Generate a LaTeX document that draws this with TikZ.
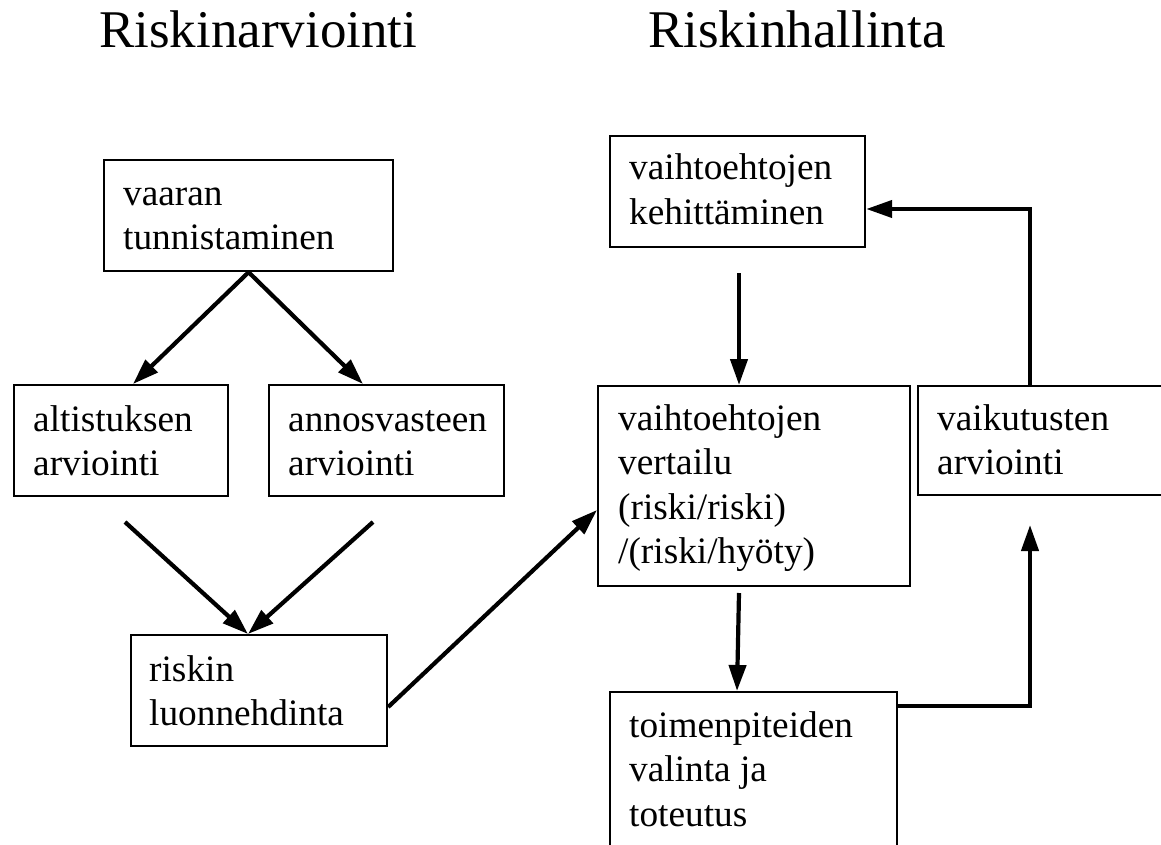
\documentclass[tikz,border=0pt]{standalone}
\usepackage{fontspec}
\setmainfont{Liberation Serif}
\usetikzlibrary{arrows.meta}
\newcommand{\twol}[1]{\begin{tabular}[t]{@{}l@{}}#1\end{tabular}}
\begin{document}
\begin{tikzpicture}[x=1pt,y=-1pt,
  box/.style={draw,line width=2.2pt,inner sep=0pt,anchor=north west},
  txt/.style={inner sep=0pt,anchor=base west,font=\fontsize{37.3}{44.5}\selectfont},
  ttl/.style={inner sep=0pt,anchor=base west,font=\fontsize{53}{63}\selectfont},
  arr/.style={line width=4.2pt,line join=miter,-{Triangle[length=26pt,width=17pt]}}]
\useasboundingbox[fill=white] (0,0) rectangle (1161,845);
% titles
\node[ttl] (t1) at (99,48) {Riskinarviointi};
\node[ttl] (t2) at (648,48) {Riskinhallinta};
% boxes
\node[box,minimum width=289pt,minimum height=111pt] (b1) at (103,159) {};
\node[txt] (b1t) at (123,205) {\twol{vaaran\\tunnistaminen}};
\node[box,minimum width=214pt,minimum height=111pt] (b2) at (13,384) {};
\node[txt] (b2t) at (33,431) {\twol{altistuksen\\arviointi}};
\node[box,minimum width=235pt,minimum height=111pt] (b3) at (268,384) {};
\node[txt] (b3t) at (288,431) {\twol{annosvasteen\\arviointi}};
\node[box,minimum width=256pt,minimum height=111pt] (b4) at (130,634) {};
\node[txt] (b4t) at (149,681) {\twol{riskin\\luonnehdinta}};
\node[box,minimum width=255pt,minimum height=111pt] (b5) at (609,135) {};
\node[txt] (b5t) at (629,180) {\twol{vaihtoehtojen\\kehittäminen}};
\node[box,minimum width=312pt,minimum height=200pt] (b6) at (597,385) {};
\node[txt] (b6t) at (618,430) {\twol{vaihtoehtojen\\vertailu\\(riski/riski)\\/(riski/hyöty)}};
\node[box,minimum width=253pt,minimum height=109pt] (b7) at (917,385) {};
\node[txt] (b7t) at (937,430) {\twol{vaikutusten\\arviointi}};
\node[box,minimum width=287pt,minimum height=179pt] (b8) at (609,691) {};
\node[txt] (b8t) at (629,737) {\twol{toimenpiteiden\\valinta ja\\toteutus}};
% free ends
\coordinate (s3) at (125,522);
\coordinate (s4) at (373,522);
\coordinate (s6) at (739,273);
\coordinate (s7) at (739,593);
\coordinate (s8) at (1030,525);
% connectors
\draw[arr] (b1.south) -- ([xshift=120pt]b2.north west);
\draw[arr] (b1.south) -- ([xshift=95pt]b3.north west);
\draw[arr] (s3) -- ([xshift=118pt]b4.north west);
\draw[arr] (s4) -- ([xshift=118pt]b4.north west);
\draw[arr] ([yshift=-73pt]b4.north east) -- ([yshift=-125pt]b6.north west);
\draw[arr] (s6) -- ([xshift=142pt]b6.north west);
\draw[arr] (s7) -- ([xshift=128pt]b8.north west);
\draw[arr] ([yshift=-15pt]b8.north east) -| (s8);
\draw[arr] ([xshift=113pt]b7.north west) |- ([yshift=-74pt]b5.north east);
\end{tikzpicture}
\end{document}
